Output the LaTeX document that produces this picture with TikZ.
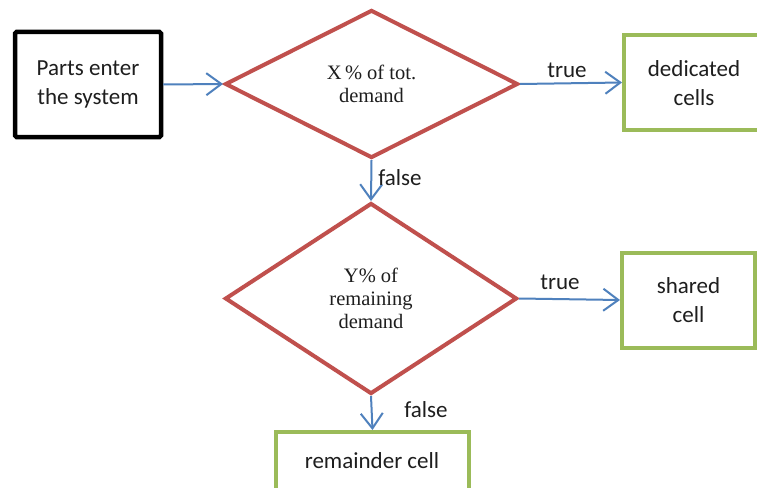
\documentclass[tikz,border=0pt]{standalone}
\usepackage{fontspec}
\setmainfont{Carlito}
\newfontfamily\serifdia{Liberation Serif}
\usetikzlibrary{shapes.geometric,arrows.meta}
\definecolor{cred}{RGB}{192,80,77}
\definecolor{cgreen}{RGB}{155,187,89}
\definecolor{cblue}{RGB}{79,129,189}
\definecolor{ctext}{RGB}{30,30,30}
\begin{document}
\begin{tikzpicture}[x=1pt,y=-1pt,
  lbl/.style={font=\fontsize{23}{29}\selectfont,text=ctext},
  startbox/.style={draw=black,line width=4.5pt,rounded corners=1.5pt,inner sep=0pt,align=center,lbl},
  cellbox/.style={draw=cgreen,line width=4pt,inner sep=0pt,align=center,lbl},
  decision/.style={diamond,draw=cred,line width=4pt,inner sep=0pt,align=center,
    font=\serifdia\fontsize{20.5}{23}\selectfont,text=ctext},
  flow/.style={draw=cblue,line width=2pt,-{Straight Barb[length=15pt,width=22pt,line width=2pt]}}
]
\useasboundingbox[fill=white] (0,0) rectangle (757,487);
\node[startbox,minimum width=146pt,minimum height=105pt] (start) at (88,84.5) {Parts enter\\the system};
\node[decision,minimum width=293pt,minimum height=148pt] (d1) at (371.5,84) {X\,\% of tot.\\demand};
\node[decision,minimum width=292pt,minimum height=191pt] (d2) at (371,298.5) {Y\% of\\remaining\\demand};
\node[cellbox,minimum width=136pt,minimum height=94pt] (ded) at (692,82.5) {};
\node[lbl,align=center] (dedt) at (694,83) {dedicated\\cells};
\node[cellbox,minimum width=133pt,minimum height=95pt] (sh) at (688.5,300) {shared\\cell};
\node[cellbox,minimum width=193pt,minimum height=70pt] (rem) at (372.5,467) {};
\node[lbl] (remt) at (372,461) {remainder cell};
\draw[flow] (start.east) -- (d1.west);
\draw[flow] (d1.east) -- (ded.west);
\draw[flow] (d1.south) -- (d2.north);
\draw[flow] (d2.east) -- (sh.west);
\draw[flow] (d2.south) -- (rem.north);
\node[lbl] (t1) at (567,70) {true};
\node[lbl] (t2) at (560,282) {true};
\node[lbl] (f1) at (400,178) {false};
\node[lbl] (f2) at (426,410) {false};
\end{tikzpicture}
\end{document}
